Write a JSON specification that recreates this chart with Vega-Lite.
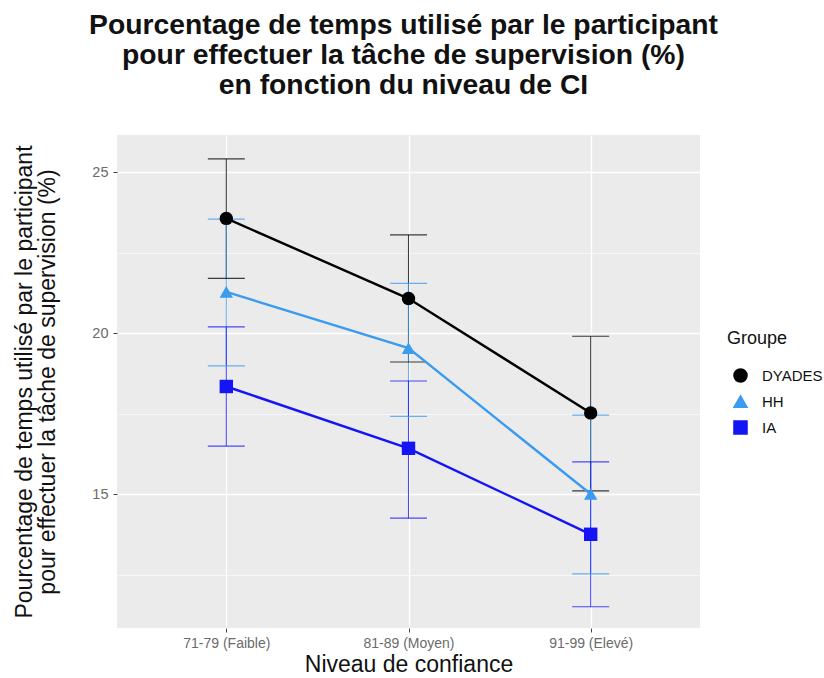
{
  "$schema": "https://vega.github.io/schema/vega-lite/v6.json",
  "width": 583,
  "height": 493,
  "autosize": {"type": "none"},
  "padding": {"left": 117, "top": 135, "right": 124, "bottom": 50},
  "background": "white",
  "title": {
    "text": ["Pourcentage de temps utilisé par le participant", "pour effectuer la tâche de supervision (%)", "en fonction du niveau de CI"],
    "font": "Liberation Sans",
    "fontSize": 28.3,
    "fontWeight": "bold",
    "lineHeight": 30,
    "color": "#111111",
    "anchor": "middle",
    "dx": -5,
    "offset": 35
  },
  "data": {
    "values": [
      {"niveau": "71-79 (Faible)", "groupe": "DYADES", "moy": 23.56, "bas": 21.70, "haut": 25.41},
      {"niveau": "81-89 (Moyen)", "groupe": "DYADES", "moy": 21.07, "bas": 19.10, "haut": 23.05},
      {"niveau": "91-99 (Elevé)", "groupe": "DYADES", "moy": 17.52, "bas": 15.10, "haut": 19.90},
      {"niveau": "71-79 (Faible)", "groupe": "HH", "moy": 21.28, "bas": 18.98, "haut": 23.54},
      {"niveau": "81-89 (Moyen)", "groupe": "HH", "moy": 19.53, "bas": 17.41, "haut": 21.54},
      {"niveau": "91-99 (Elevé)", "groupe": "HH", "moy": 15.0, "bas": 12.52, "haut": 17.45},
      {"niveau": "71-79 (Faible)", "groupe": "IA", "moy": 18.34, "bas": 16.49, "haut": 20.19},
      {"niveau": "81-89 (Moyen)", "groupe": "IA", "moy": 16.42, "bas": 14.25, "haut": 18.51},
      {"niveau": "91-99 (Elevé)", "groupe": "IA", "moy": 13.75, "bas": 11.50, "haut": 16.00}
    ]
  },
  "config": {
    "font": "Liberation Sans",
    "view": {"fill": "#EBEBEB", "stroke": null},
    "axis": {
      "domain": false,
      "gridColor": "#FFFFFF",
      "gridWidth": 1.3,
      "tickColor": "#444444",
      "tickSize": 4,
      "labelColor": "#6B6B6B",
      "labelFont": "Liberation Sans",
      "labelFontSize": 14.5,
      "labelPadding": 5,
      "titleFont": "Liberation Sans",
      "titleFontSize": 23,
      "titleFontWeight": "normal",
      "titleColor": "#111111"
    },
    "legend": {
      "titleFont": "Liberation Sans",
      "titleFontSize": 18,
      "titleFontWeight": "normal",
      "labelFont": "Liberation Sans",
      "labelFontSize": 15,
      "labelColor": "#111111",
      "titleColor": "#111111",
      "symbolOpacity": 1
    }
  },
  "encoding": {
    "x": {
      "field": "niveau",
      "type": "ordinal",
      "sort": ["71-79 (Faible)", "81-89 (Moyen)", "91-99 (Elevé)"],
      "scale": {"type": "point", "padding": 0.6},
      "axis": {"title": "Niveau de confiance", "labelAngle": 0, "labelFontSize": 14, "labelPadding": 4, "titlePadding": 3, "grid": true}
    },
    "color": {
      "field": "groupe",
      "type": "nominal",
      "scale": {"domain": ["DYADES", "HH", "IA"], "range": ["#000000", "#3B9BF0", "#1414F5"]},
      "legend": {"title": "Groupe", "orient": "none", "legendX": 610, "legendY": 195, "rowPadding": 6, "symbolSize": 170, "symbolOffset": 6, "labelOffset": 14, "titlePadding": 20}
    }
  },
  "layer": [
    {
      "mark": {"type": "rule", "strokeWidth": 1.1, "opacity": 0.75},
      "encoding": {
        "y": {
          "field": "bas",
          "type": "quantitative",
          "scale": {"domain": [10.84, 26.15], "nice": false, "zero": false},
          "axis": {
            "title": ["Pourcentage de temps utilisé par le participant", "pour effectuer la tâche de supervision (%)"],
            "values": [12.5, 15, 17.5, 20, 22.5, 25],
            "labelExpr": "datum.value % 5 === 0 ? datum.label : ''",
            "gridWidth": {"condition": {"test": "datum.value % 5 === 0", "value": 1.3}, "value": 0.6},
            "tickOpacity": {"condition": {"test": "datum.value % 5 === 0", "value": 1}, "value": 0},
            "titlePadding": 32,
            "titleLineHeight": 23
          }
        },
        "y2": {"field": "haut"}
      }
    },
    {
      "mark": {"type": "tick", "size": 37, "thickness": 1.2, "opacity": 0.75},
      "encoding": {"y": {"field": "bas", "type": "quantitative"}}
    },
    {
      "mark": {"type": "tick", "size": 37, "thickness": 1.2, "opacity": 0.75},
      "encoding": {"y": {"field": "haut", "type": "quantitative"}}
    },
    {
      "mark": {"type": "line", "strokeWidth": 2.4},
      "encoding": {"y": {"field": "moy", "type": "quantitative"}}
    },
    {
      "mark": {"type": "point", "filled": true, "opacity": 1, "size": 180},
      "encoding": {
        "y": {"field": "moy", "type": "quantitative"},
        "shape": {
          "field": "groupe",
          "type": "nominal",
          "scale": {"domain": ["DYADES", "HH", "IA"], "range": ["circle", "triangle-up", "square"]},
          "legend": {"title": "Groupe", "orient": "none", "legendX": 610, "legendY": 195}
        }
      }
    }
  ]
}
